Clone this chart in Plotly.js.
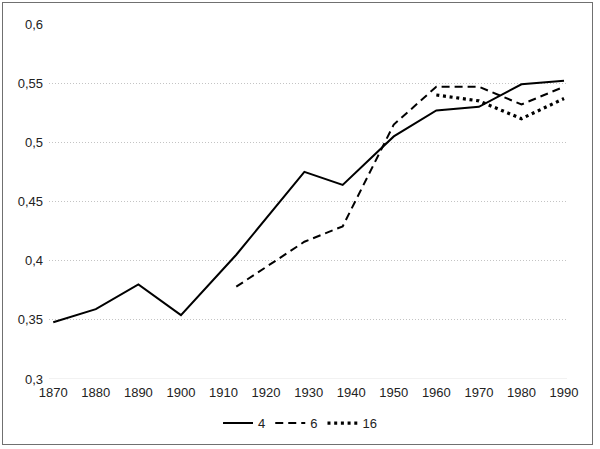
<!DOCTYPE html>
<html>
<head>
<meta charset="utf-8">
<script src="https://cdn.plot.ly/plotly-3.0.1.min.js"></script>
<style>
html,body{margin:0;padding:0;background:#fff;}
#wrap{position:relative;width:600px;height:449px;}
#chart{position:absolute;left:0;top:0;width:600px;height:449px;}
#frame{position:absolute;left:2px;top:2px;width:589px;height:441px;border:1.5px solid #707070;pointer-events:none;}
</style>
</head>
<body>
<div id="wrap"><div id="chart"></div><div id="frame"></div></div>
<script>
const years4 = [1870,1880,1890,1900,1913,1929,1938,1950,1960,1970,1980,1990];
const vals4  = [0.348,0.359,0.380,0.354,0.405,0.475,0.464,0.505,0.527,0.530,0.549,0.552];
const years6 = [1913,1929,1938,1950,1960,1970,1980,1990];
const vals6  = [0.378,0.416,0.429,0.515,0.547,0.547,0.532,0.547];
const years16 = [1960,1970,1980,1990];
const vals16  = [0.540,0.535,0.520,0.537];
const names = ['4','6','16'];

const traces = [
  {x:years4,y:vals4,name:names[0],type:'scatter',mode:'lines',line:{color:'#000',width:2}},
  {x:years6,y:vals6,name:names[1],type:'scatter',mode:'lines',line:{color:'#000',width:2,dash:'8px,5px'}},
  {x:years16,y:vals16,name:names[2],type:'scatter',mode:'lines',line:{color:'#000',width:3.2,dash:'3px,3.7px'}}
];
const layout = {
  width:600,height:449,
  margin:{l:49,r:33,t:24,b:69,pad:0},
  paper_bgcolor:'#fff',plot_bgcolor:'#fff',
  separators:', ',
  font:{family:'"Liberation Sans", Arial, sans-serif',size:13,color:'#222'},
  showlegend:true,
  legend:{orientation:'h',x:0.4846,xanchor:'center',y:-0.121,yanchor:'middle',font:{size:13,color:'#222'},itemwidth:30,tracegroupgap:0},
  xaxis:{range:[1869,1990.7],tick0:1870,dtick:10,showgrid:false,zeroline:false,showline:false,ticks:'',ticklen:0,ticklabelstandoff:4,tickfont:{size:13,color:'#222'}},
  yaxis:{range:[0.3,0.6],tick0:0.3,dtick:0.05,showgrid:true,gridcolor:'#c4c4c4',griddash:'1px,2px',gridwidth:1,zeroline:false,showline:false,ticks:'',ticklen:0,ticklabelstandoff:5,tickfont:{size:13,color:'#222'}},
  shapes:[{type:'line',xref:'paper',yref:'y',x0:0,x1:1,y0:0.3,y1:0.3,line:{color:'#e4e4e4',width:1}}]
};
Plotly.newPlot('chart',traces,layout,{staticPlot:true,displayModeBar:false});
</script>
</body>
</html>
